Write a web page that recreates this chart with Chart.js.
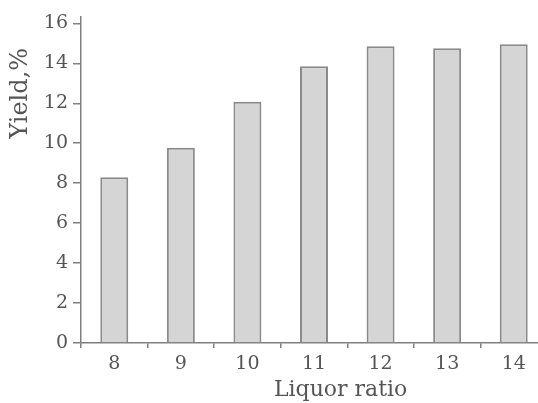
<!DOCTYPE html>
<html>
<head>
<meta charset="utf-8">
<script src="https://cdn.jsdelivr.net/npm/chart.js@4"></script>
<style>
  html, body { margin: 0; padding: 0; background: #fff; overflow: hidden; }
  #wrap { width: 538px; height: 403px; overflow: hidden; }
</style>
</head>
<body>
<div id="wrap"><canvas id="chart" width="560" height="403"></canvas></div>
<script>
// Data
const ratios = ['8', '9', '10', '11', '12', '13', '14'];
const yields = [8.3, 9.77, 12.08, 13.85, 14.85, 14.75, 14.95];
const yTicks = [0, 2, 4, 6, 8, 10, 12, 14, 16];

const xTitle = 'Liquor ratio';
const yTitle = 'Yield,%';

const FONT = 'DejaVu Serif';
const INK = '#555';
const AXIS = '#808080';

// axis titles in the source are not centred on their axes
const titlesPlugin = {
  id: 'axisTitles',
  afterDraw(chart) {
    const { ctx, scales: { x, y } } = chart;
    ctx.save();
    ctx.font = `22px "${FONT}"`;
    ctx.fillStyle = INK;
    ctx.textAlign = 'center';
    ctx.textBaseline = 'middle';
    ctx.fillText(xTitle, x.getPixelForValue(3.4), 390);

    ctx.translate(21, y.getPixelForValue(12.5));
    ctx.rotate(-Math.PI / 2);
    ctx.font = `24px "${FONT}"`;
    ctx.fillText(yTitle, 0, 0);
    ctx.restore();
  }
};

new Chart(document.getElementById('chart'), {
  type: 'bar',
  data: {
    labels: ratios,
    datasets: [{
      data: yields,
      backgroundColor: '#d5d5d5',
      borderColor: '#8a8a8a',
      borderWidth: 2,
      categoryPercentage: 1,
      barPercentage: 0.42
    }]
  },
  options: {
    responsive: false,
    animation: false,
    layout: { padding: { top: 13, right: 13, bottom: 0, left: 0 } },
    plugins: { legend: { display: false }, tooltip: { enabled: false } },
    scales: {
      x: {
        offset: true,
        grid: { display: true, drawOnChartArea: false, offset: true, tickLength: 5, color: AXIS, lineWidth: 1.5 },
        border: { color: AXIS, width: 1.5 },
        ticks: { color: INK, font: { family: FONT, size: 19 }, padding: 5 },
        afterFit(scale) { scale.height = 60; }
      },
      y: {
        min: 0,
        max: 16.35,
        afterBuildTicks(scale) { scale.ticks = yTicks.map(v => ({ value: v })); },
        grid: { display: true, drawOnChartArea: false, tickLength: 8, color: AXIS, lineWidth: 1.5 },
        border: { color: AXIS, width: 1.5 },
        ticks: { color: INK, font: { family: FONT, size: 19 }, padding: 5 },
        afterFit(scale) { scale.width = 81; }
      }
    }
  },
  plugins: [titlesPlugin]
});
</script>
</body>
</html>
